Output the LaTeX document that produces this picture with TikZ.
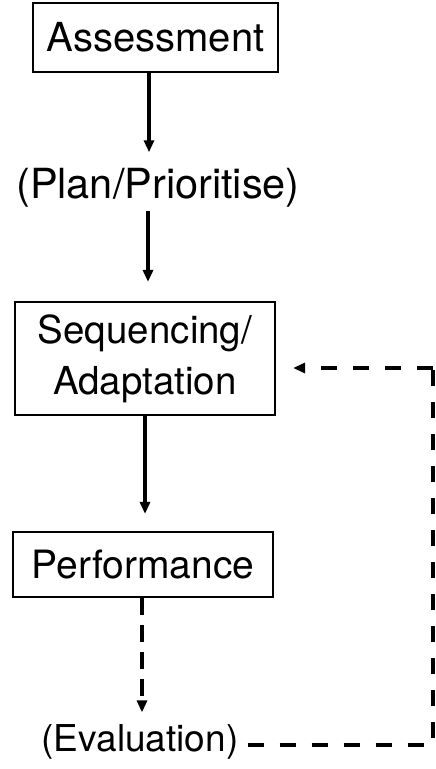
\documentclass[tikz,border=0pt]{standalone}
\usepackage{fontspec}
\setmainfont{TeX Gyre Heros}
\usetikzlibrary{arrows.meta}
\begin{document}
\begin{tikzpicture}[x=1pt,y=-1pt,
  box/.style={draw,line width=2.2pt,inner sep=0pt},
  label/.style={inner sep=0pt},
  tip/.style={-{Triangle[length=12pt,width=10pt]}},
  arr/.style={line width=3.2pt,tip},
  darr/.style={line width=3.2pt,dash pattern=on 17pt off 10pt,tip},
  fback/.style={line width=3.2pt,dash pattern=on 16pt off 16pt}]
\useasboundingbox (0,0) rectangle (436,769);

% boxes and labels of the cycle
\node[box,minimum width=245pt,minimum height=69pt,font=\fontsize{40}{48}\selectfont]
  (ass) at (155.5,37.5) {Assessment};
\node[label,font=\fontsize{41.5}{48}\selectfont] (plan) at (158,188) {(Plan/Prioritise)};
\node[box,minimum width=260pt,minimum height=113pt,align=center,
  font=\fontsize{38.5}{51}\selectfont] (seq) at (145,358.5) {Sequencing/\\Adaptation};
\node[box,minimum width=260pt,minimum height=65pt,font=\fontsize{39}{48}\selectfont]
  (perf) at (143,564.5) {Performance};
\node[label,font=\fontsize{37}{44}\selectfont] (eval) at (140,742) {(Evaluation)};

% corners of the feedback loop
\coordinate (br) at (433,745);
\coordinate (cr) at (433,368);

% main sequence
\draw[arr] ([xshift=-6.5pt]ass.south) -- ([xshift=-9pt,yshift=16pt]plan.north);
\draw[arr] ([xshift=-10pt,yshift=-3pt]plan.south) -- ([xshift=3pt,yshift=19pt]seq.north);
\draw[arr] (seq.south) -- ([xshift=2pt,yshift=17pt]perf.north);
\draw[darr] ([xshift=-1pt]perf.south) -- ([xshift=2pt,yshift=12pt]eval.north);

% feedback from evaluation back to sequencing
\draw[fback] ([xshift=9pt,yshift=-3pt]eval.east) -- (br) -- (cr);
\draw[fback,tip] (cr) -- ([xshift=17pt,yshift=-9.5pt]seq.east);
\end{tikzpicture}
\end{document}
